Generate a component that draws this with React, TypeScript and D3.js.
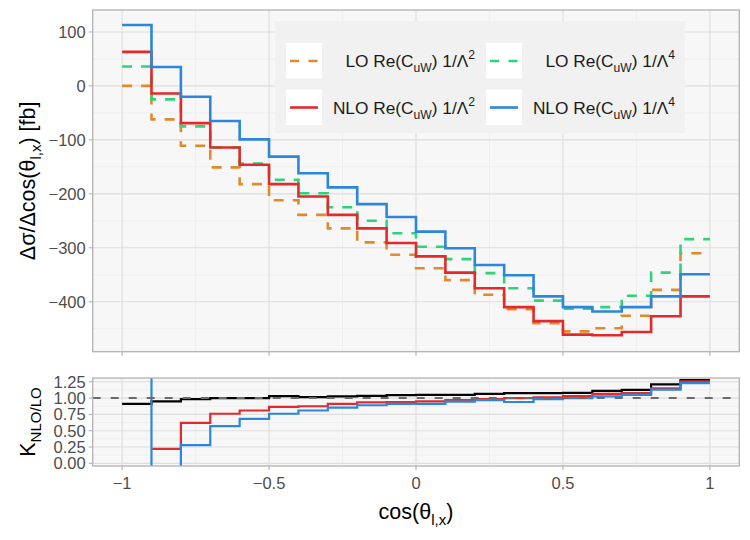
import { useRef, useEffect } from "react";
import * as d3 from "d3";

// bin edges of cos(theta_l,x), 20 bins of width 0.1
const binEdges = d3.range(21).map((i) => +(-1 + i * 0.1).toFixed(1));

// differential cross sections per bin [fb]
const loLambda2 = [0, -62, -111, -151, -182, -212, -239, -264, -290, -313, -338, -360, -387, -414, -440, -455, -449, -426, -378, -310];
const loLambda4 = [36, -25, -75, -114, -144, -174, -199, -225, -250, -273, -298, -321, -347, -375, -398, -413, -410, -389, -346, -284];
const nloLambda2 = [63, -14, -69, -114, -146, -182, -205, -239, -264, -291, -316, -346, -375, -410, -436, -461, -462, -456, -427, -390];
const nloLambda4 = [113, 35, -20, -65, -99, -131, -162, -188, -219, -243, -270, -301, -332, -351, -390, -410, -418, -410, -390, -349];

// K-factors NLO/LO per bin (null where LO vanishes)
const kTotal = [0.91, 0.95, 0.985, 1.0, 1.0, 1.03, 1.015, 1.025, 1.035, 1.045, 1.05, 1.05, 1.065, 1.075, 1.075, 1.08, 1.11, 1.125, 1.21, 1.275];
const kLambda2 = [null, 0.22, 0.62, 0.76, 0.81, 0.865, 0.875, 0.91, 0.935, 0.94, 0.95, 0.97, 0.985, 1.0, 1.01, 1.03, 1.065, 1.075, 1.15, 1.255];
const kLambda4 = [3.1, -1.4, 0.28, 0.57, 0.68, 0.76, 0.81, 0.855, 0.89, 0.91, 0.91, 0.945, 0.97, 0.94, 0.985, 1.0, 1.025, 1.05, 1.13, 1.23];

const xTicks = [-1, -0.5, 0, 0.5, 1];
const xMinor = [-0.75, -0.25, 0.25, 0.75];
const yTicksTop = [100, 0, -100, -200, -300, -400];
const yMinorTop = [50, -50, -150, -250, -350, -450];
const yTicksK = [0, 0.25, 0.5, 0.75, 1, 1.25];
const yMinorK = [0.125, 0.375, 0.625, 0.875, 1.125];

const ORANGE = "#df8a2d";
const GREEN = "#2fd37b";
const RED = "#e22a2a";
const BLUE = "#2c86de";

type Part = [string, "n" | "sub" | "sup"];

const legendItems: { parts: Part[]; color: string; dashed: boolean }[] = [
  { parts: [["LO Re(C", "n"], ["uW", "sub"], [") 1/Λ", "n"], ["2", "sup"]], color: ORANGE, dashed: true },
  { parts: [["NLO Re(C", "n"], ["uW", "sub"], [") 1/Λ", "n"], ["2", "sup"]], color: RED, dashed: false },
  { parts: [["LO Re(C", "n"], ["uW", "sub"], [") 1/Λ", "n"], ["4", "sup"]], color: GREEN, dashed: true },
  { parts: [["NLO Re(C", "n"], ["uW", "sub"], [") 1/Λ", "n"], ["4", "sup"]], color: BLUE, dashed: false },
];

const FONT = "'Liberation Sans', Arial, sans-serif";
const TICK_SIZE = 16.5;
const TITLE_SIZE = 21.5;

function richText(
  sel: d3.Selection<SVGTextElement, unknown, null, undefined>,
  parts: Part[],
  size: number
) {
  let cur = 0;
  parts.forEach(([t, kind]) => {
    const target = kind === "sub" ? size * 0.3 : kind === "sup" ? -size * 0.45 : 0;
    sel
      .append("tspan")
      .attr("dy", target - cur)
      .attr("font-size", kind === "n" ? size : size * 0.7)
      .text(t);
    cur = target;
  });
}

export default function App() {
  const svgRef = useRef<SVGSVGElement>(null);

  useEffect(() => {
    if (!svgRef.current) return;
    const svg = d3.select(svgRef.current);
    svg.selectAll("*").remove();

    const left = 92.7;
    const right = 739.3;
    const top = { y0: 10, y1: 351.7 };
    const bot = { y0: 378, y1: 466 };

    const x = d3.scaleLinear().domain([-1.1, 1.1]).range([left, right]);
    const yTop = d3.scaleLinear().domain([-492.6, 140.7]).range([top.y1, top.y0]);
    const yK = d3.scaleLinear().domain([-0.041, 1.308]).range([bot.y1, bot.y0]);

    const defs = svg.append("defs");
    defs.append("clipPath").attr("id", "clip-top")
      .append("rect").attr("x", left).attr("y", top.y0).attr("width", right - left).attr("height", top.y1 - top.y0);
    defs.append("clipPath").attr("id", "clip-bot")
      .append("rect").attr("x", left).attr("y", bot.y0).attr("width", right - left).attr("height", bot.y1 - bot.y0);

    function panel(y: d3.ScaleLinear<number, number>, y0: number, y1: number, major: number[], minor: number[]) {
      const g = svg.append("g");
      g.append("rect").attr("x", left).attr("y", y0).attr("width", right - left).attr("height", y1 - y0).attr("fill", "#f7f7f7");
      g.selectAll(".hmin").data(minor).join("line")
        .attr("x1", left).attr("x2", right).attr("y1", (d) => y(d)).attr("y2", (d) => y(d))
        .attr("stroke", "#ebebeb").attr("stroke-width", 0.7);
      g.selectAll(".vmin").data(xMinor).join("line")
        .attr("x1", (d) => x(d)).attr("x2", (d) => x(d)).attr("y1", y0).attr("y2", y1)
        .attr("stroke", "#ebebeb").attr("stroke-width", 0.7);
      g.selectAll(".hmaj").data(major).join("line")
        .attr("x1", left).attr("x2", right).attr("y1", (d) => y(d)).attr("y2", (d) => y(d))
        .attr("stroke", "#dedede").attr("stroke-width", 1.1);
      g.selectAll(".vmaj").data(xTicks).join("line")
        .attr("x1", (d) => x(d)).attr("x2", (d) => x(d)).attr("y1", y0).attr("y2", y1)
        .attr("stroke", "#dedede").attr("stroke-width", 1.1);
      // axis ticks
      g.selectAll(".yt").data(major).join("line")
        .attr("x1", left - 4).attr("x2", left).attr("y1", (d) => y(d)).attr("y2", (d) => y(d))
        .attr("stroke", "#b3b3b3").attr("stroke-width", 1.1);
      g.selectAll(".xt").data(xTicks).join("line")
        .attr("x1", (d) => x(d)).attr("x2", (d) => x(d)).attr("y1", y1).attr("y2", y1 + 4)
        .attr("stroke", "#b3b3b3").attr("stroke-width", 1.1);
      return g;
    }

    function border(y0: number, y1: number) {
      svg.append("rect").attr("x", left).attr("y", y0).attr("width", right - left).attr("height", y1 - y0)
        .attr("fill", "none").attr("stroke", "#b3b3b3").attr("stroke-width", 1.3);
    }

    const step = (y: d3.ScaleLinear<number, number>) =>
      d3.line<[number, number | null]>()
        .defined((d) => d[1] !== null)
        .x((d) => x(d[0]))
        .y((d) => y(d[1] as number))
        .curve(d3.curveStepAfter);

    const points = (vals: (number | null)[]): [number, number | null][] =>
      binEdges.map((e, i) => [e, vals[Math.min(i, vals.length - 1)]]);

    // ---- upper panel
    panel(yTop, top.y0, top.y1, yTicksTop, yMinorTop);

    const series = [
      { vals: loLambda2, color: ORANGE, dashed: true },
      { vals: loLambda4, color: GREEN, dashed: true },
      { vals: nloLambda2, color: RED, dashed: false },
      { vals: nloLambda4, color: BLUE, dashed: false },
    ];
    const gl = svg.append("g").attr("clip-path", "url(#clip-top)");
    series.forEach((s) => {
      gl.append("path")
        .attr("d", step(yTop)(points(s.vals)))
        .attr("fill", "none")
        .attr("stroke", s.color)
        .attr("stroke-width", 2.6)
        .attr("stroke-dasharray", s.dashed ? "10 9" : null);
    });
    border(top.y0, top.y1);

    svg.append("g").selectAll("text").data(yTicksTop).join("text")
      .attr("x", left - 7).attr("y", (d) => yTop(d)).attr("dy", "0.36em")
      .attr("text-anchor", "end").attr("font-family", FONT).attr("font-size", TICK_SIZE).attr("fill", "#4d4d4d")
      .text((d) => (d < 0 ? "−" + Math.abs(d) : String(d)));

    // legend
    const lg = svg.append("g");
    lg.append("rect").attr("x", 275).attr("y", 21).attr("width", 410).attr("height", 112).attr("fill", "#f1f1f1");
    legendItems.forEach((it, i) => {
      const col = Math.floor(i / 2);
      const row = i % 2;
      const kx = 286 + col * 200;
      const ky = 43 + row * 46.5;
      lg.append("rect").attr("x", kx).attr("y", ky).attr("width", 36).attr("height", 35.5).attr("fill", "#ffffff");
      lg.append("line")
        .attr("x1", kx + 4).attr("x2", kx + 32).attr("y1", ky + 18).attr("y2", ky + 18)
        .attr("stroke", it.color).attr("stroke-width", 2.6)
        .attr("stroke-dasharray", it.dashed ? "9 9.5" : null);
      const t = lg.append("text")
        .attr("x", 475 + col * 200).attr("y", ky + 24)
        .attr("text-anchor", "end").attr("font-family", FONT).attr("fill", "#1a1a1a");
      richText(t, it.parts, 17.3);
    });

    // y title, upper panel
    const yt = svg.append("text")
      .attr("transform", `translate(35,${(top.y0 + top.y1) / 2}) rotate(-90)`)
      .attr("text-anchor", "middle").attr("font-family", FONT).attr("fill", "#000");
    richText(yt, [["Δσ/Δcos(θ", "n"], ["l,x", "sub"], [") [fb]", "n"]], TITLE_SIZE);

    // ---- lower panel
    panel(yK, bot.y0, bot.y1, yTicksK, yMinorK);
    const gk = svg.append("g").attr("clip-path", "url(#clip-bot)");
    [
      { vals: kTotal, color: "#000000" },
      { vals: kLambda2, color: RED },
      { vals: kLambda4, color: BLUE },
    ].forEach((s) => {
      gk.append("path")
        .attr("d", step(yK)(points(s.vals)))
        .attr("fill", "none")
        .attr("stroke", s.color)
        .attr("stroke-width", 2.2);
    });
    gk.append("line")
      .attr("x1", left).attr("x2", right).attr("y1", yK(1)).attr("y2", yK(1))
      .attr("stroke", "#6b6b6b").attr("stroke-width", 2).attr("stroke-dasharray", "8 10");
    border(bot.y0, bot.y1);

    svg.append("g").selectAll("text").data(yTicksK).join("text")
      .attr("x", left - 7).attr("y", (d) => yK(d)).attr("dy", "0.36em")
      .attr("text-anchor", "end").attr("font-family", FONT).attr("font-size", TICK_SIZE).attr("fill", "#4d4d4d")
      .text((d) => d3.format(".2f")(d));

    const kt = svg.append("text")
      .attr("transform", `translate(35,${(bot.y0 + bot.y1) / 2}) rotate(-90)`)
      .attr("text-anchor", "middle").attr("font-family", FONT).attr("fill", "#000");
    richText(kt, [["K", "n"], ["NLO/LO", "sub"]], TITLE_SIZE);

    // x axis labels
    svg.append("g").selectAll("text").data(xTicks).join("text")
      .attr("x", (d) => x(d)).attr("y", bot.y1 + 23)
      .attr("text-anchor", "middle").attr("font-family", FONT).attr("font-size", TICK_SIZE).attr("fill", "#4d4d4d")
      .text((d) => (d < 0 ? "−" + Math.abs(d) : String(d)));

    const xt = svg.append("text")
      .attr("x", (left + right) / 2).attr("y", 519)
      .attr("text-anchor", "middle").attr("font-family", FONT).attr("fill", "#000");
    richText(xt, [["cos(θ", "n"], ["l,x", "sub"], [")", "n"]], TITLE_SIZE);
  }, []);

  return (
    <svg
      ref={svgRef}
      width={750}
      height={540}
      style={{ position: "absolute", left: 0, top: 0, background: "#fff" }}
    />
  );
}
